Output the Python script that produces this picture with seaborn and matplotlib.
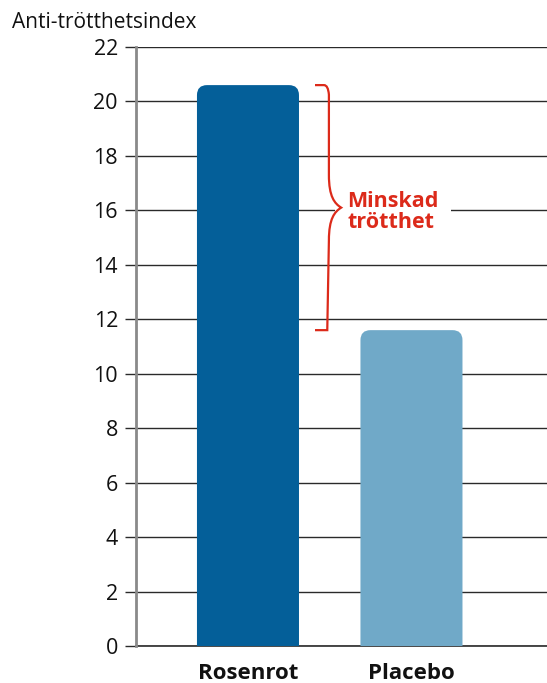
import matplotlib
matplotlib.use("Agg")
import matplotlib.pyplot as plt
from matplotlib.patches import FancyBboxPatch, PathPatch
from matplotlib.path import Path
import seaborn as sns
import pandas as pd

groups = ["Rosenrot", "Placebo"]
values = [20.6, 11.6]
bar_colors = ["#045f99", "#70a9c8"]
yticks = [0, 2, 4, 6, 8, 10, 12, 14, 16, 18, 20, 22]
ylabel = "Anti-trötthetsindex"
note = "Minskad\ntrötthet"

sns.set_theme(style="white")
plt.rcParams["font.family"] = ["Open Sans", "DejaVu Sans"]

df = pd.DataFrame({"grupp": groups, "index": values})

fig = plt.figure(figsize=(5.47, 6.83), dpi=100)
ax = fig.add_axes([0.2486, 0.0542, 0.7514, 0.8770])

sns.barplot(data=df, x="grupp", y="index", hue="grupp", palette=bar_colors,
            width=0.624, saturation=1, legend=False, ax=ax, zorder=3)

ax.set_ylim(0, 22)
ax.set_xlim(-0.685, 1.829)
ax.set_yticks(yticks)
ax.set_yticklabels([str(t) for t in yticks], fontsize=15.5, color="#111111")
ax.set_xlabel("")
ax.set_ylabel("")
for lab in ax.get_xticklabels():
    lab.set_fontweight("bold")
    lab.set_fontsize(16)
    lab.set_color("#111111")

# Horizontal grid lines
ax.yaxis.grid(True, color="#2a2a2a", linewidth=1.0, zorder=0)
ax.set_axisbelow(True)
ax.tick_params(axis="y", length=8, width=1.0, color="#2a2a2a", pad=5, left=True)
ax.tick_params(axis="x", length=0, pad=12)

for s in ["top", "right"]:
    ax.spines[s].set_visible(False)
ax.spines["left"].set_color("#8a8a8a")
ax.spines["left"].set_linewidth(2.0)
ax.spines["bottom"].set_color("#2a2a2a")
ax.spines["bottom"].set_linewidth(1.2)
ax.spines["left"].set_zorder(4)

# Replace bars with versions having rounded top corners
fig.canvas.draw()
px_x = ax.transData.transform((1, 0))[0] - ax.transData.transform((0, 0))[0]
px_y = ax.transData.transform((0, 1))[1] - ax.transData.transform((0, 0))[1]
radius_px = 10
rx = radius_px / px_x
aspect = px_x / px_y
for patch in list(ax.patches):
    x0, y0 = patch.get_x(), patch.get_y()
    w, h = patch.get_width(), patch.get_height()
    color = patch.get_facecolor()
    patch.set_visible(False)
    extra = 2 * radius_px / px_y
    rounded = FancyBboxPatch((x0, y0 - extra), w, h + extra,
                             boxstyle=f"round,pad=0,rounding_size={rx}",
                             mutation_aspect=aspect,
                             facecolor=color, edgecolor="none", zorder=3,
                             clip_on=True)
    ax.add_patch(rounded)

# Curly brace marking the difference between the groups
top, bot = values[0], values[1]
mid = (top + bot) / 2
xa, xv, xt = 0.41, 0.495, 0.57
dy = 0.35
red = "#dc2a1a"
verts = [
    (xa, top), (xv - 0.03, top), (xv - 0.005, top), (xv, top - dy),
    (xv, mid + 1.2),
    (xv, mid + 0.4), (xt - 0.04, mid + 0.15), (xt, mid),
    (xt - 0.04, mid - 0.15), (xv, mid - 0.4), (xv, mid - 1.2),
    (xv - 0.01, bot),
    (xa, bot),
]
codes = [Path.MOVETO, Path.LINETO, Path.CURVE3, Path.CURVE3,
         Path.LINETO,
         Path.CURVE4, Path.CURVE4, Path.CURVE4,
         Path.CURVE4, Path.CURVE4, Path.CURVE4,
         Path.LINETO,
         Path.LINETO]
ax.add_patch(PathPatch(Path(verts, codes), facecolor="none", edgecolor=red,
                       linewidth=1.6, zorder=6, capstyle="butt",
                       joinstyle="miter"))

ax.text(0.606, mid - 0.15, note, color=red, fontsize=15.5, fontweight="bold",
        ha="left", va="center", linespacing=1.0, zorder=5,
        bbox=dict(facecolor="white", edgecolor="none", pad=9))

fig.text(0.022, 1 - 22 / 683, ylabel, fontsize=15, ha="left", va="center",
         color="#111111")

fig.savefig("out.png", dpi=100, facecolor="white")
